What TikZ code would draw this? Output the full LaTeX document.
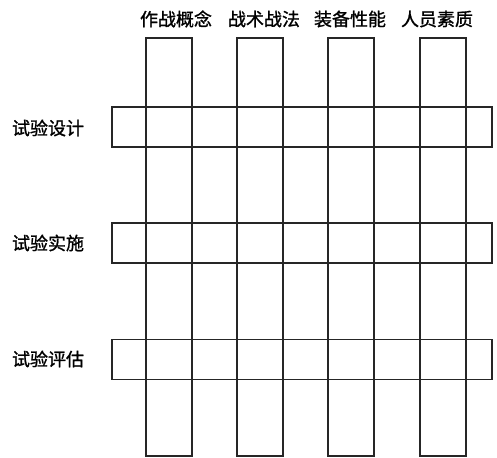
\documentclass[tikz,border=0pt]{standalone}
\usepackage{fontspec}
\newfontfamily\cjk[FakeBold=1.2]{Noto Sans CJK SC}
\begin{document}
\begin{tikzpicture}[x=1pt,y=-1pt,
  bar/.style={draw=black!85,line width=1.2pt,inner sep=0pt,outer sep=0pt},
  colbar/.style={bar,minimum width=46pt,minimum height=418pt,anchor=north},
  rowbar/.style={bar,minimum width=380pt,minimum height=40pt,anchor=west},
  lab/.style={font=\cjk\fontsize{18}{18}\selectfont,inner sep=0pt}]
\useasboundingbox (0,0) rectangle (497,457);
\node[colbar] (c1) at (169,38) {};
\node[colbar] (c2) at (260,38) {};
\node[colbar] (c3) at (351,38) {};
\node[colbar] (c4) at (443,38) {};
\node[rowbar] (r1) at (112,127) {};
\node[rowbar] (r2) at (112,243) {};
\node[rowbar] (r3) at (112,359.5) {};
\node[lab] (t1) at (176,19) {作战概念};
\node[lab] (t2) at (264,19) {战术战法};
\node[lab] (t3) at (350,19) {装备性能};
\node[lab] (t4) at (437,19) {人员素质};
\node[lab] (l1) at (48,128) {试验设计};
\node[lab] (l2) at (48,243) {试验实施};
\node[lab] (l3) at (48,359) {试验评估};
\end{tikzpicture}
\end{document}
